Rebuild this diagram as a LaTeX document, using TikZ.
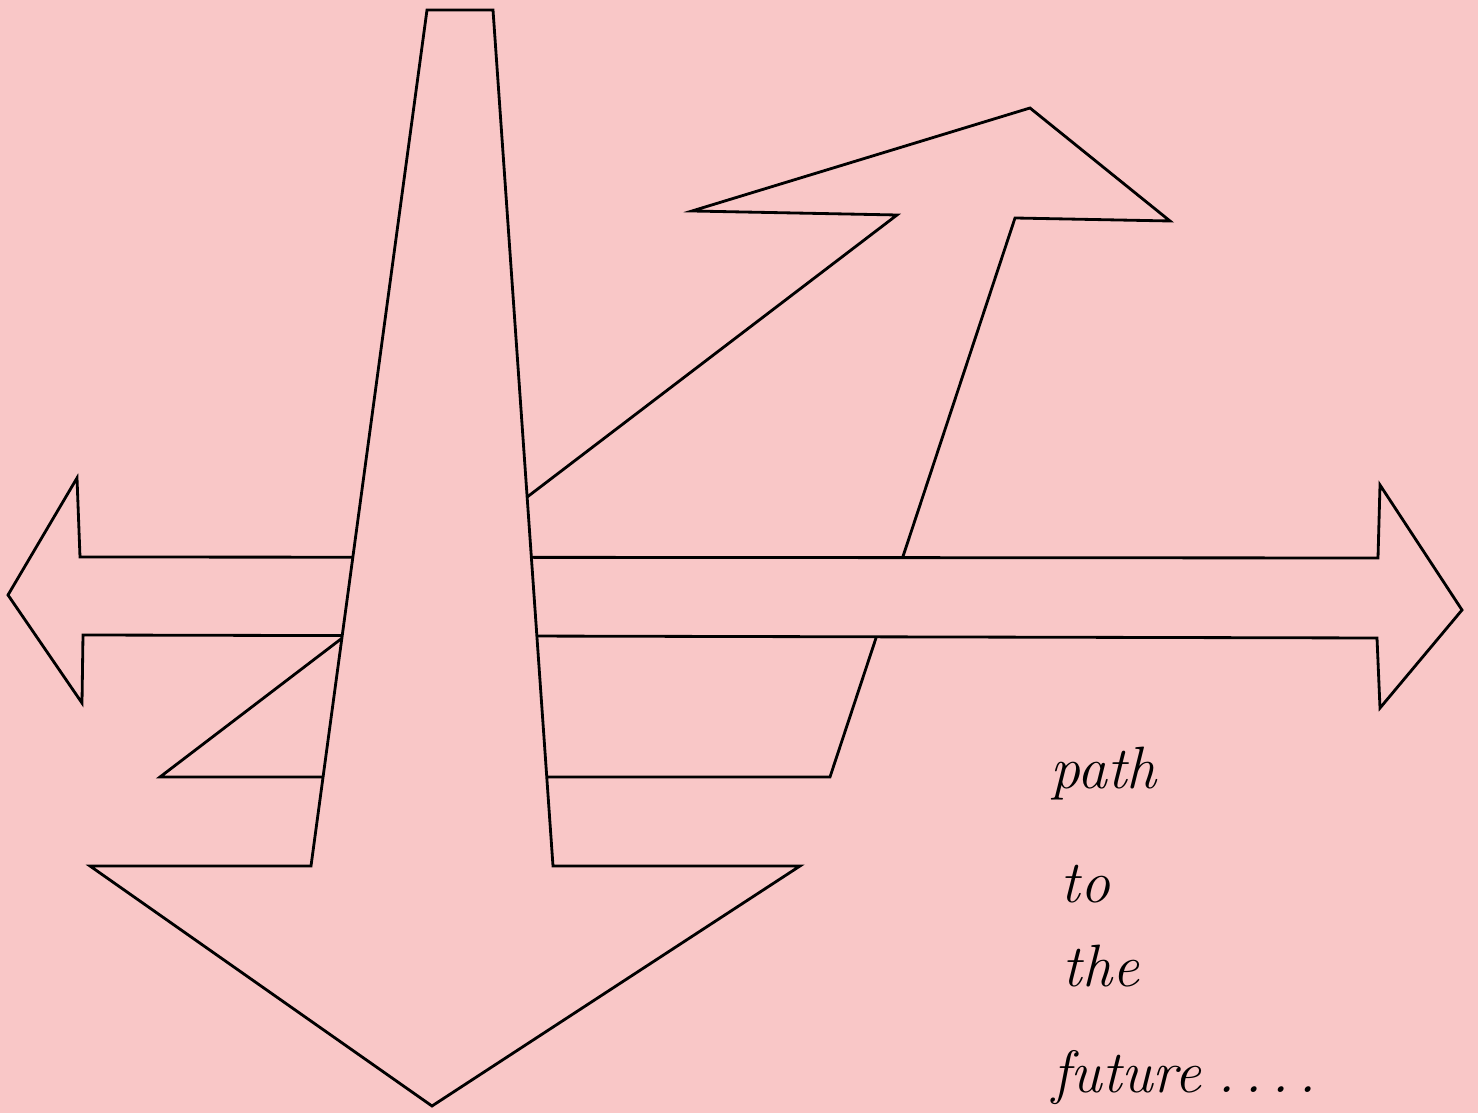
\documentclass[tikz,border=0pt]{standalone}
\definecolor{paper}{RGB}{249,199,199}
\begin{document}
\begin{tikzpicture}[x=0.01cm, y=-0.01cm,
    arrowshape/.style={draw=black, fill=paper, line width=0.8pt, line join=miter},
    every node/.style={font=\fontsize{17}{20}\selectfont\itshape, inner sep=0pt, anchor=base west}]
  \fill[paper] (0,0) rectangle (1478,1113);
  \useasboundingbox (0,0) rectangle (1478,1113);

  % bent arrow (behind)
  \draw[arrowshape] (160,777) -- (830,777) -- (1015,218) -- (1170,221) -- (1030,108)
    -- (692,211) -- (897,215) -- cycle;

  % double arrow
  \draw[arrowshape] (80,557) -- (1378,558) -- (1380,485) -- (1462,610) -- (1380,708)
    -- (1377,638) -- (83,635) -- (82,703) -- (8,595) -- (77,478) -- cycle;

  % down arrow (front)
  \draw[arrowshape] (427,10) -- (493,10) -- (553,866) -- (800,866) -- (432,1106)
    -- (90,866) -- (311,866) -- cycle;

  % text
  \node (path) at (1050,789) {path};
  \node (to) at (1060,903) {to};
  \node (the) at (1062,987) {the};
  \node (future) at (1052,1093) {future\kern4.5pt.\kern2.6pt.\kern2.6pt.\kern2.6pt.};
\end{tikzpicture}
\end{document}
